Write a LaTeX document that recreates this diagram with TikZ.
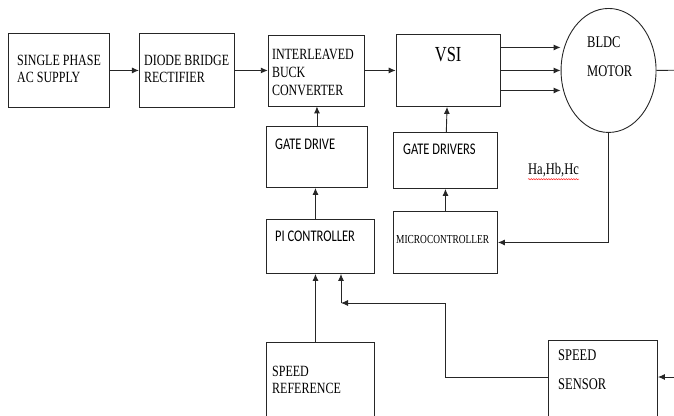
\documentclass[tikz,border=0pt]{standalone}
\usepackage{fontspec}
\setmainfont{Liberation Serif}
\newfontfamily\calibri{Carlito}
\usepackage{tikz}
\usetikzlibrary{
	shapes.geometric,
	arrows.meta,
	positioning,
	decorations.pathmorphing
}
\begin{document}
\begin{tikzpicture}[
    x=1pt, y=-1pt,
    block/.style={rectangle, draw=black!85, line width=0.9pt, inner sep=0pt, anchor=north west},
    txt/.style={inner sep=0pt, align=left, yscale=1.3, transform shape, font=\fontsize{12}{13.3}\selectfont},
    sans/.style={inner sep=0pt, align=left, yscale=1.3, transform shape, font=\calibri\fontsize{12.5}{15}\selectfont},
    arrow/.style={-{Latex[length=7pt, width=6pt]}, line width=0.9pt, draw=black!85}
]
\useasboundingbox (0,0) rectangle (674,415);
\clip (0,0) rectangle (674,415);

\node[block, minimum width=101pt, minimum height=74pt] (supply) at (8,33) {};
\node[block, minimum width=95pt, minimum height=74pt, right=29pt of supply] (rectifier) {};
\node[block, minimum width=96pt, minimum height=71pt, right=33pt of rectifier] (buck) {};
\node[block, minimum width=104pt, minimum height=72pt, right=31pt of buck] (vsi) {};
\node[ellipse, draw=black!85, line width=0.9pt, minimum width=95pt, minimum height=124pt, right=60pt of vsi] (motor) {};
\node[block, minimum width=101pt, minimum height=61pt] (gatedrive) at (266,126) {};
\node[block, minimum width=104pt, minimum height=56pt] (gatedrivers) at (393,132) {};
\node[block, minimum width=108pt, minimum height=54pt] (pi) at (266,219) {};
\node[block, minimum width=104pt, minimum height=62pt] (micro) at (393,211) {};
\node[block, minimum width=108pt, minimum height=90pt] (speedref) at (266,342) {};
\node[block, minimum width=109pt, minimum height=90pt] (sensor) at (548,340) {};

\node[txt, below right=22pt and 9pt of supply.north west] (supply-t) {SINGLE PHASE\\AC SUPPLY};
\node[txt, below right=22pt and 5pt of rectifier.north west] (rectifier-t) {DIODE BRIDGE\\RECTIFIER};
\node[txt, font=\fontsize{12}{13.9}\selectfont, below right=14pt and 4pt of buck.north west] (buck-t) {INTERLEAVED\\BUCK\\CONVERTER};
\node[txt, font=\fontsize{16.5}{18}\selectfont, below=13pt of vsi.north] (vsi-t) {VSI};
\node[txt, font=\fontsize{12.5}{22.3}\selectfont, anchor=north west] (motor-t) at (587,36) {BLDC\\MOTOR};
\node[sans, below right=13pt and 9pt of gatedrive.north west] (gatedrive-t) {GATE DRIVE};
\node[sans, below right=12pt and 10pt of gatedrivers.north west] (gatedrivers-t) {GATE DRIVERS};
\node[sans, below right=12pt and 9pt of pi.north west] (pi-t) {PI CONTROLLER};
\node[txt, font=\fontsize{9.4}{11}\selectfont, below right=24pt and 3pt of micro.north west] (micro-t) {MICROCONTROLLER};
\node[txt, below right=24pt and 6pt of speedref.north west] (speedref-t) {SPEED\\REFERENCE};
\node[txt, font=\fontsize{12.5}{22.3}\selectfont, below right=9pt and 10pt of sensor.north west] (sensor-t) {SPEED\\SENSOR};
\node[txt, font=\fontsize{12.5}{15}\selectfont, anchor=west] (hall) at (528,170) {Ha,Hb,Hc};
\draw[red, line width=0.4pt, decorate, decoration={snake, amplitude=0.6pt, segment length=2.5pt}] ([yshift=-2pt]hall.south west) -- ([yshift=-2pt]hall.south east);

\coordinate (shaft) at (690,70);
\coordinate (join) at (341,303);
\coordinate (speedin) at (690,377);

\draw[arrow] (supply) -- (rectifier);
\draw[arrow] (rectifier) -- (buck);
\draw[arrow] (buck) -- (vsi);
\draw[arrow] ([yshift=23pt]vsi.east) -- ([yshift=23pt]motor.west);
\draw[arrow] (vsi) -- (motor);
\draw[arrow] ([yshift=-20pt]vsi.east) -- ([yshift=-20pt]motor.west);
\draw[line width=0.9pt, draw=black!85] (motor.east) -- (shaft);
\draw[arrow] (gatedrive.north) -- (gatedrive.north |- buck.south);
\draw[arrow] ([xshift=-5pt]pi.north) -- ([xshift=-5pt]pi.north |- gatedrive.south);
\draw[arrow] (gatedrivers) -- (vsi);
\draw[arrow] (micro) -- (gatedrivers);
\draw[arrow] (motor.south) |- (micro.east);
\draw[arrow] ([xshift=-5pt]speedref.north) -- ([xshift=-5pt]speedref.north |- pi.south);
\draw[arrow] ([yshift=8pt]sensor.west) -| (445,303) -- (join);
\draw[arrow] (join) -- (join |- pi.south);
\draw[arrow] (speedin) -- (speedin -| sensor.east);
\end{tikzpicture}
\end{document}
